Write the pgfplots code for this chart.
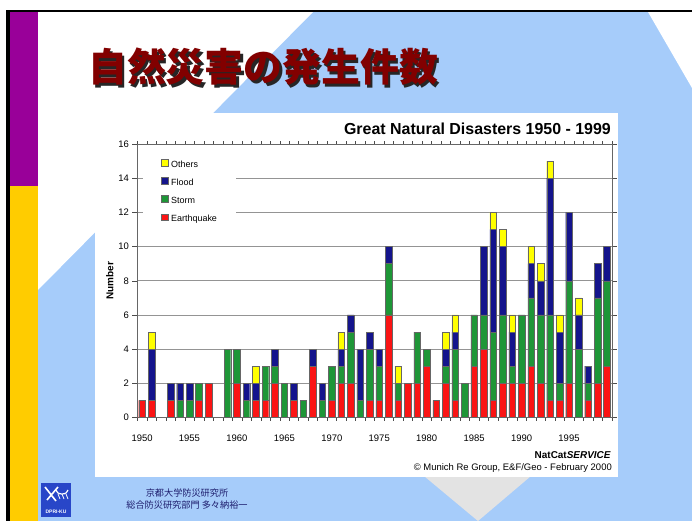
\documentclass[border=0pt]{standalone}
\usepackage{fontspec}
\setmainfont{Liberation Sans}
\newfontfamily\cjk{Noto Sans CJK JP}
\usepackage{pgfplots}
\usepackage{pgfplotstable}
\pgfplotsset{compat=1.18}
\definecolor{eq}{RGB}{250,20,20}
\definecolor{st}{RGB}{30,150,55}
\definecolor{fl}{RGB}{20,20,140}
\definecolor{ot}{RGB}{255,255,0}
\definecolor{slideblue}{RGB}{166,204,250}
\definecolor{purp}{RGB}{153,0,153}
\definecolor{gold}{RGB}{255,204,0}
\definecolor{ttl}{RGB}{130,0,0}
\definecolor{navytxt}{RGB}{30,30,110}
\definecolor{logoblue}{RGB}{40,70,200}

\pgfplotstableread{
year E S F O
1950 1 0 0 0
1951 1 0 3 1
1952 0 0 0 0
1953 1 0 1 0
1954 0 1 1 0
1955 0 1 1 0
1956 1 1 0 0
1957 2 0 0 0
1958 0 0 0 0
1959 0 4 0 0
1960 2 2 0 0
1961 0 1 1 0
1962 1 0 1 1
1963 1 2 0 0
1964 2 1 1 0
1965 0 2 0 0
1966 1 0 1 0
1967 0 1 0 0
1968 3 0 1 0
1969 0 1 1 0
1970 1 2 0 0
1971 2 1 1 1
1972 2 3 1 0
1973 0 1 3 0
1974 1 3 1 0
1975 1 2 1 0
1976 6 3 1 0
1977 1 1 0 1
1978 2 0 0 0
1979 2 3 0 0
1980 3 1 0 0
1981 1 0 0 0
1982 2 1 1 1
1983 1 3 1 1
1984 0 2 0 0
1985 3 3 0 0
1986 4 2 4 0
1987 1 4 6 1
1988 2 4 4 1
1989 2 1 2 1
1990 2 4 0 0
1991 3 4 2 1
1992 2 4 2 1
1993 1 5 8 1
1994 1 1 3 1
1995 2 6 4 0
1996 0 4 2 1
1997 1 1 1 0
1998 2 5 2 0
1999 3 5 2 0
}\disasters

\begin{document}
\begin{tikzpicture}
\path[use as bounding box] (0,0) rectangle (692bp,-521bp);
\begin{scope}[x=1bp,y=-1bp]
\fill[white] (0,0) rectangle (692,521);
\fill[slideblue] (8,11) rectangle (692,521);
\fill[white] (38,12) -- (313,12) -- (38,290) -- cycle;
\fill[white] (648,12) -- (692,12) -- (692,88) -- cycle;
\fill[black!11] (424,476) -- (531,476) -- (478,521) -- cycle;
\fill[black] (6,10) rectangle (692,12);
\fill[black] (6,10) rectangle (9.5,521);
\fill[purp] (9.5,12) rectangle (38,186);
\fill[gold] (9.5,186) rectangle (38,521);
\fill[white] (95,113) rectangle (618,477);
% slide title (with drop shadow)
\node[anchor=west, inner sep=0pt, text=black!85, font=\cjk\bfseries\fontsize{39}{40}\selectfont] at (90.5,69.5) {自然災害の発生件数};
\node[anchor=west, inner sep=0pt, text=ttl, font=\cjk\bfseries\fontsize{39}{40}\selectfont] at (88,67) {自然災害の発生件数};
% footer
\node[text=navytxt, align=center, font=\cjk\fontsize{9.2}{12.5}\selectfont] at (187,499) {京都大学防災研究所\\総合防災研究部門 多々納裕一};
% logo
\fill[logoblue] (41,483) rectangle (71,517);
\draw[white, line width=1.6bp] (45,487) -- (56,501) (47,500) -- (58,487);
\draw[white, line width=1.2bp] (56,490) arc (180:0:6 and 4);
\draw[white, line width=0.8bp] (58,494) -- (60,499) (62,494) -- (64,499) (66,494) -- (68,499);
\node[white, inner sep=0pt, font=\bfseries\fontsize{5}{5}\selectfont] at (56,512) {DPRI-KU};
% chart texts
\node[anchor=east, inner sep=0pt, font=\bfseries\fontsize{16}{18}\selectfont] at (611,129) {Great Natural Disasters 1950 - 1999};
\node[anchor=east, inner sep=0pt, font=\bfseries\fontsize{10}{12}\selectfont] at (611,455) {NatCat\textit{SERVICE}};
\node[anchor=east, inner sep=0pt, font=\fontsize{9.5}{11}\selectfont] at (612,468) {\textcopyright{} Munich Re Group, E\&F/Geo - February 2000};
\end{scope}

\begin{axis}[
  at={(137.3bp,-417.5bp)}, anchor=south west,
  scale only axis, width=474.4bp, height=273.5bp,
  ybar stacked, bar width=6.6bp,
  xmin=1949.5, xmax=1999.5, ymin=0, ymax=16,
  ytick={0,2,...,16},
  xtick={1950,1955,...,1995},
  minor xtick={1949.5,1950.5,...,1999.5},
  tick align=outside,
  major tick length=5bp, minor tick length=3bp,
  major x tick style={draw=none},
  tick style={black!70},
  xticklabel style={yshift=-9bp},
  /pgf/number format/1000 sep={},
  /pgf/number format/assume math mode=true,
  ticklabel style={font=\fontsize{9.5}{11}\selectfont},
  ymajorgrids, grid style={draw=black!42, line width=0.8bp},
  axis line style={draw=black!60},
  ylabel={Number},
  ylabel style={font=\bfseries\fontsize{10}{12}\selectfont, at={(axis description cs:-0.058,0.5)}, anchor=center},
  every axis plot/.append style={draw=black!60, line width=0.35bp},
  reverse legend,
  legend cell align=left,
  legend image code/.code={\draw[#1,draw=black!60,line width=0.3bp] (0bp,-0.7bp) rectangle (6.4bp,5.7bp); \path (8.6bp,0bp);},
  legend style={at={(axis description cs:0.012,0.969)}, anchor=north west, draw=none, fill=white,
    font=\fontsize{9}{10.8}\selectfont, inner xsep=18bp, inner ysep=6.5bp, row sep=6.8bp,
    nodes={inner sep=1bp, text height=7bp, text depth=2bp}},
]
\addplot[fill=eq] table[x=year,y=E]{\disasters};
\addplot[fill=st] table[x=year,y=S]{\disasters};
\addplot[fill=fl] table[x=year,y=F]{\disasters};
\addplot[fill=ot] table[x=year,y=O]{\disasters};
\legend{Earthquake,Storm,Flood,Others}
\end{axis}
\end{tikzpicture}
\end{document}
